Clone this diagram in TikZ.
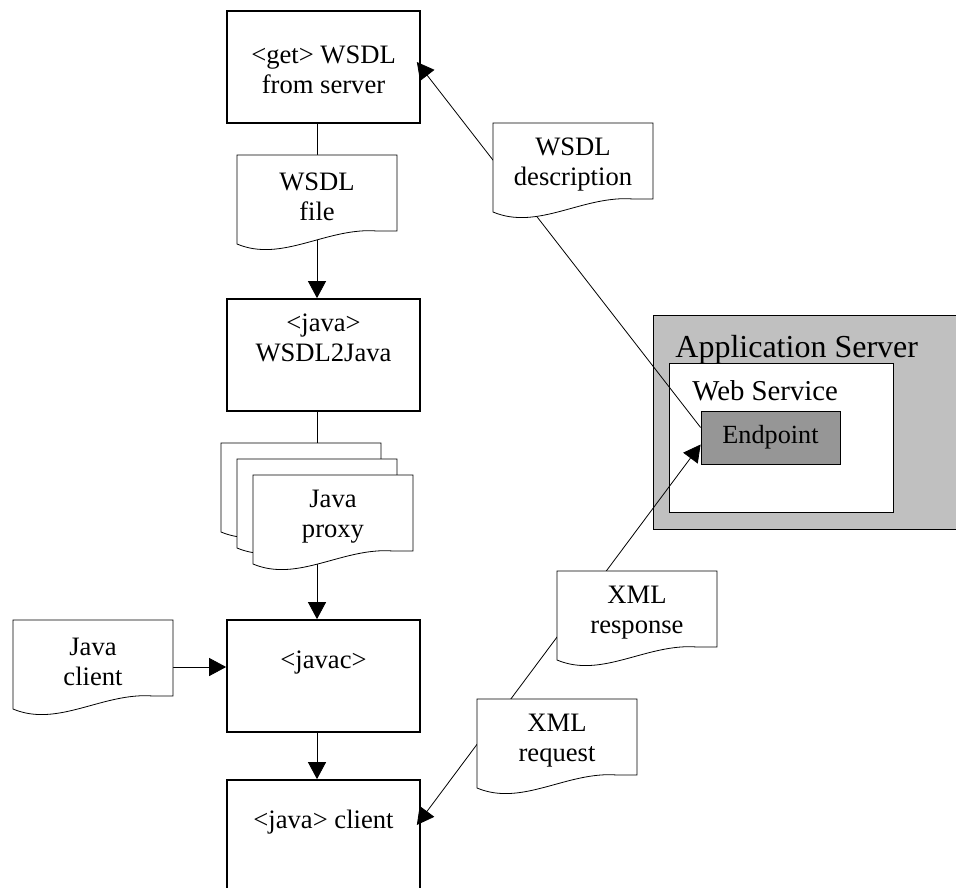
\documentclass[tikz,border=0pt]{standalone}
\usepackage{fontspec}
\setmainfont{Liberation Serif}
\usetikzlibrary{arrows.meta,calc}

\definecolor{servergray}{RGB}{192,192,192}
\definecolor{endpointgray}{RGB}{150,150,150}

\pgfdeclarelayer{back}
\pgfdeclarelayer{lines}
\pgfsetlayers{back,lines,main}

\tikzset{
  procbox/.style={draw, minimum width=96.5pt, minimum height=56pt, inner sep=0pt},
  doctext/.style={minimum width=80pt, minimum height=42pt, inner sep=0pt, align=center},
  docline/.style={fill=white},
  boxlabel/.style={align=center, inner sep=0pt},
}

% document symbol: wavy bottom edge, #2/#3 = top left corner
\newcommand{\docnode}[4]{%
  \filldraw[docline, shift={(#2,#3)}] (0,0) -- (160,0) -- (160,76) -- (140,76)
    .. controls (90,72) and (45,108) .. (0,89) -- cycle;
  \node[doctext] (#1) at (#2+80,#3+42) {#4};
}

\begin{document}
\begin{tikzpicture}[x=0.5pt, y=-0.5pt, line width=0.85pt,
    >={Triangle[length=8.5pt,width=9pt]},
    font=\fontsize{13.3pt}{15pt}\selectfont]
    \useasboundingbox (0,0) rectangle (956,887);

    % build steps
    \node[procbox, label={[name=getwsdl-t, boxlabel, yshift=-1.5pt]center:{<get> WSDL\\from server}}] (getwsdl) at (323.5,67) {};
    \node[procbox, label={[name=wsdl2java-t, boxlabel, yshift=8.5pt]center:{<java>\\WSDL2Java}}] (wsdl2java) at (323.5,355) {};
    \node[procbox, label={[name=javac-t, boxlabel, yshift=6.5pt]center:{<javac>}}] (javac) at (323.5,676) {};
    \node[procbox, label={[name=client-t, boxlabel, yshift=7pt]center:{<java> client}}] (client) at (323.5,836) {};

    % application server
    \begin{pgfonlayer}{back}
        \node[draw, fill=servergray, anchor=north west, minimum width=154pt, minimum height=107pt] (appserver) at (653,315) {};
        \node[draw, fill=white, anchor=north west, minimum width=112pt, minimum height=74.5pt] (webservice) at (669,363) {};
    \end{pgfonlayer}
    \node[anchor=west, inner sep=0pt, font=\fontsize{16pt}{18pt}\selectfont] (apptitle) at (675,349.5) {Application Server};
    \node[anchor=west, inner sep=0pt, font=\fontsize{14.4pt}{16pt}\selectfont] (wstitle) at (692,391) {Web Service};
    \node[draw, fill=endpointgray, minimum width=69.5pt, minimum height=26.5pt, inner sep=0pt,
        font=\fontsize{13.1pt}{15pt}\selectfont] (endpoint) at (770.5,437.5) {Endpoint};

    % documents
    \docnode{wsdlfile}{237}{155}{WSDL\\file}
    \docnode{wsdldesc}{493}{123}{WSDL\\description}
    \docnode{proxyb}{221}{443}{}
    \docnode{proxym}{237}{459}{}
    \docnode{proxy}{253}{475}{Java\\proxy}
    \docnode{javaclient}{13}{620}{Java\\client}
    \docnode{xmlresp}{557}{571}{XML\\response}
    \docnode{xmlreq}{477}{699}{XML\\request}

    % connectors
    \begin{pgfonlayer}{lines}
        \draw[->] ($(endpoint.west)+(0,-10)$) -- ($(getwsdl.east)+(-4,-5)$);
        \draw[<->] ($(client.east)+(-4,-11)$) -- ($(endpoint.west)+(0,7)$);
        \draw (wsdlfile.north |- getwsdl.south) -- (wsdlfile.north);
        \draw[->] (wsdlfile.south) -- (wsdlfile.south |- wsdl2java.north);
        \draw (wsdlfile.south |- wsdl2java.south) -- (wsdlfile.south |- proxyb.north);
        \draw[->] (wsdlfile.south |- proxy.south) -- (wsdlfile.south |- javac.north);
        \draw[->] ($(javaclient.east)+(0,5)$) -- ($(javaclient.east -| javac.west)+(0,5)$);
        \draw[->] (wsdlfile.south |- javac.south) -- (wsdlfile.south |- client.north);
    \end{pgfonlayer}
\end{tikzpicture}
\end{document}
